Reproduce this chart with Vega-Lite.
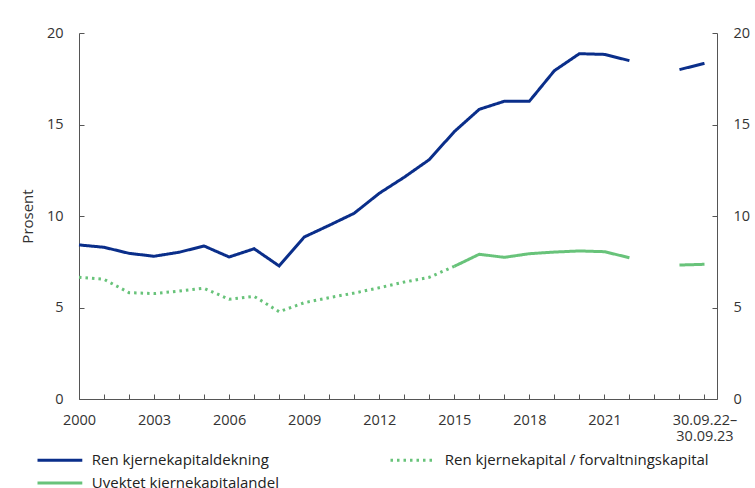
{
  "$schema": "https://vega.github.io/schema/vega-lite/v6.json",
  "width": 638,
  "height": 366,
  "autosize": "none",
  "padding": {"left": 79, "top": 33, "right": 38, "bottom": 89},
  "background": "white",
  "config": {
    "view": {"stroke": null},
    "font": "Open Sans",
    "axis": {"labelFont": "Open Sans", "titleFont": "Open Sans", "labelColor": "#333333", "titleColor": "#333333", "domainColor": "#555555", "tickColor": "#555555", "grid": false},
    "legend": {"labelFont": "Open Sans"}
  },
  "data": {
    "values": [
      {"aar": 2000, "verdi": 8.42, "serie": "Ren kjernekapitaldekning", "del": "a"},
      {"aar": 2001, "verdi": 8.29, "serie": "Ren kjernekapitaldekning", "del": "a"},
      {"aar": 2002, "verdi": 7.96, "serie": "Ren kjernekapitaldekning", "del": "a"},
      {"aar": 2003, "verdi": 7.8, "serie": "Ren kjernekapitaldekning", "del": "a"},
      {"aar": 2004, "verdi": 8.02, "serie": "Ren kjernekapitaldekning", "del": "a"},
      {"aar": 2005, "verdi": 8.36, "serie": "Ren kjernekapitaldekning", "del": "a"},
      {"aar": 2006, "verdi": 7.76, "serie": "Ren kjernekapitaldekning", "del": "a"},
      {"aar": 2007, "verdi": 8.21, "serie": "Ren kjernekapitaldekning", "del": "a"},
      {"aar": 2008, "verdi": 7.27, "serie": "Ren kjernekapitaldekning", "del": "a"},
      {"aar": 2009, "verdi": 8.85, "serie": "Ren kjernekapitaldekning", "del": "a"},
      {"aar": 2010, "verdi": 9.49, "serie": "Ren kjernekapitaldekning", "del": "a"},
      {"aar": 2011, "verdi": 10.15, "serie": "Ren kjernekapitaldekning", "del": "a"},
      {"aar": 2012, "verdi": 11.24, "serie": "Ren kjernekapitaldekning", "del": "a"},
      {"aar": 2013, "verdi": 12.12, "serie": "Ren kjernekapitaldekning", "del": "a"},
      {"aar": 2014, "verdi": 13.08, "serie": "Ren kjernekapitaldekning", "del": "a"},
      {"aar": 2015, "verdi": 14.61, "serie": "Ren kjernekapitaldekning", "del": "a"},
      {"aar": 2016, "verdi": 15.83, "serie": "Ren kjernekapitaldekning", "del": "a"},
      {"aar": 2017, "verdi": 16.27, "serie": "Ren kjernekapitaldekning", "del": "a"},
      {"aar": 2018, "verdi": 16.27, "serie": "Ren kjernekapitaldekning", "del": "a"},
      {"aar": 2019, "verdi": 17.94, "serie": "Ren kjernekapitaldekning", "del": "a"},
      {"aar": 2020, "verdi": 18.87, "serie": "Ren kjernekapitaldekning", "del": "a"},
      {"aar": 2021, "verdi": 18.83, "serie": "Ren kjernekapitaldekning", "del": "a"},
      {"aar": 2022, "verdi": 18.49, "serie": "Ren kjernekapitaldekning", "del": "a"},
      {"aar": 2024, "verdi": 18.0, "serie": "Ren kjernekapitaldekning", "del": "b"},
      {"aar": 2025, "verdi": 18.34, "serie": "Ren kjernekapitaldekning", "del": "b"},
      {"aar": 2000, "verdi": 6.65, "serie": "Ren kjernekapital / forvaltningskapital", "del": "a"},
      {"aar": 2001, "verdi": 6.54, "serie": "Ren kjernekapital / forvaltningskapital", "del": "a"},
      {"aar": 2002, "verdi": 5.81, "serie": "Ren kjernekapital / forvaltningskapital", "del": "a"},
      {"aar": 2003, "verdi": 5.76, "serie": "Ren kjernekapital / forvaltningskapital", "del": "a"},
      {"aar": 2004, "verdi": 5.9, "serie": "Ren kjernekapital / forvaltningskapital", "del": "a"},
      {"aar": 2005, "verdi": 6.05, "serie": "Ren kjernekapital / forvaltningskapital", "del": "a"},
      {"aar": 2006, "verdi": 5.45, "serie": "Ren kjernekapital / forvaltningskapital", "del": "a"},
      {"aar": 2007, "verdi": 5.61, "serie": "Ren kjernekapital / forvaltningskapital", "del": "a"},
      {"aar": 2008, "verdi": 4.77, "serie": "Ren kjernekapital / forvaltningskapital", "del": "a"},
      {"aar": 2009, "verdi": 5.26, "serie": "Ren kjernekapital / forvaltningskapital", "del": "a"},
      {"aar": 2010, "verdi": 5.54, "serie": "Ren kjernekapital / forvaltningskapital", "del": "a"},
      {"aar": 2011, "verdi": 5.79, "serie": "Ren kjernekapital / forvaltningskapital", "del": "a"},
      {"aar": 2012, "verdi": 6.08, "serie": "Ren kjernekapital / forvaltningskapital", "del": "a"},
      {"aar": 2013, "verdi": 6.39, "serie": "Ren kjernekapital / forvaltningskapital", "del": "a"},
      {"aar": 2014, "verdi": 6.65, "serie": "Ren kjernekapital / forvaltningskapital", "del": "a"},
      {"aar": 2015, "verdi": 7.25, "serie": "Ren kjernekapital / forvaltningskapital", "del": "a"},
      {"aar": 2015, "verdi": 7.25, "serie": "Uvektet kjernekapitalandel", "del": "a"},
      {"aar": 2016, "verdi": 7.91, "serie": "Uvektet kjernekapitalandel", "del": "a"},
      {"aar": 2017, "verdi": 7.74, "serie": "Uvektet kjernekapitalandel", "del": "a"},
      {"aar": 2018, "verdi": 7.94, "serie": "Uvektet kjernekapitalandel", "del": "a"},
      {"aar": 2019, "verdi": 8.03, "serie": "Uvektet kjernekapitalandel", "del": "a"},
      {"aar": 2020, "verdi": 8.09, "serie": "Uvektet kjernekapitalandel", "del": "a"},
      {"aar": 2021, "verdi": 8.05, "serie": "Uvektet kjernekapitalandel", "del": "a"},
      {"aar": 2022, "verdi": 7.72, "serie": "Uvektet kjernekapitalandel", "del": "a"},
      {"aar": 2024, "verdi": 7.32, "serie": "Uvektet kjernekapitalandel", "del": "b"},
      {"aar": 2025, "verdi": 7.36, "serie": "Uvektet kjernekapitalandel", "del": "b"}
    ]
  },
  "layer": [
    {
      "mark": {"type": "line", "strokeWidth": 3, "strokeCap": "butt"},
      "encoding": {
        "x": {
          "field": "aar",
          "type": "quantitative",
          "scale": {"domain": [2000, 2025.5], "nice": false, "zero": false},
          "axis": {
            "title": null,
            "values": [2000, 2001, 2002, 2003, 2004, 2005, 2006, 2007, 2008, 2009, 2010, 2011, 2012, 2013, 2014, 2015, 2016, 2017, 2018, 2019, 2020, 2021, 2022, 2023, 2024, 2025],
            "labelExpr": "datum.value == 2025 ? ['30.09.22–', '30.09.23'] : ((datum.value - 2000) % 3 == 0 && datum.value <= 2021 ? '' + datum.value : '')",
            "labelFontSize": 14.5,
            "labelLineHeight": 16,
            "labelPadding": 19,
            "labelOverlap": false,
            "labelFlush": false,
            "tickSize": -5,
            "labelBaseline": "top"
          }
        },
        "y": {
          "field": "verdi",
          "type": "quantitative",
          "scale": {"domain": [0, 20], "nice": false},
          "axis": {
            "title": "Prosent",
            "titleFontSize": 15,
            "titleFontWeight": "normal",
            "titlePadding": 11,
            "values": [0, 5, 10, 15, 20],
            "labelFontSize": 14.5,
            "labelPadding": 21,
            "tickSize": -5
          }
        },
        "color": {
          "field": "serie",
          "type": "nominal",
          "scale": {
            "domain": ["Ren kjernekapitaldekning", "Ren kjernekapital / forvaltningskapital", "Uvektet kjernekapitalandel"],
            "range": ["#0a2e8a", "#68c37a", "#68c37a"]
          },
          "legend": {
            "title": null,
            "orient": "none",
            "direction": "horizontal",
            "legendX": -28.6,
            "legendY": 417.5,
            "columns": 2,
            "columnPadding": 105,
            "rowPadding": 5,
            "padding": 0,
            "symbolType": "M-2.8,0H2.8",
            "symbolSize": 256,
            "symbolStrokeWidth": 3,
            "labelFontSize": 15,
            "labelColor": "#222222",
            "labelOffset": 22.4,
            "labelLimit": 400
          }
        },
        "strokeDash": {
          "field": "serie",
          "type": "nominal",
          "scale": {
            "domain": ["Ren kjernekapitaldekning", "Ren kjernekapital / forvaltningskapital", "Uvektet kjernekapitalandel"],
            "range": [[1, 0], [2.5, 4], [1, 0]]
          },
          "legend": {
            "title": null,
            "orient": "none",
            "direction": "horizontal",
            "legendX": -28.6,
            "legendY": 417.5,
            "columns": 2,
            "columnPadding": 105,
            "rowPadding": 5,
            "padding": 0,
            "symbolType": "M-2.8,0H2.8",
            "symbolSize": 256,
            "symbolStrokeWidth": 3,
            "labelFontSize": 15,
            "labelColor": "#222222",
            "labelOffset": 22.4,
            "labelLimit": 400
          }
        },
        "detail": {"field": "del"}
      }
    },
    {
      "mark": {"type": "rule", "opacity": 0},
      "encoding": {
        "y": {
          "field": "verdi",
          "type": "quantitative",
          "scale": {"domain": [0, 20], "nice": false},
          "axis": {
            "title": null,
            "orient": "right",
            "values": [0, 5, 10, 15, 20],
            "labelFontSize": 14.5,
            "labelPadding": 21,
            "tickSize": -5
          }
        }
      }
    }
  ],
  "resolve": {"axis": {"y": "independent"}}
}
